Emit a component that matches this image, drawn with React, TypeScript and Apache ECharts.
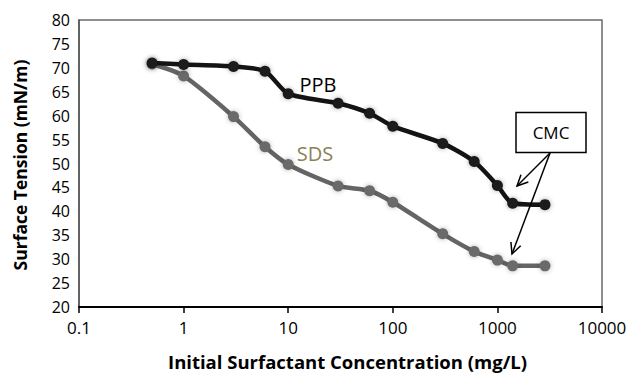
import React, { useEffect, useRef } from "react";
import * as echarts from "echarts";

const concentrations = [0.5, 1, 3, 6, 10, 30, 60, 100, 300, 600, 1000, 1400, 2850];
const ppbTension = [71.0, 70.7, 70.3, 69.3, 64.6, 62.6, 60.5, 57.8, 54.2, 50.4, 45.4, 41.7, 41.4];
const sdsTension = [70.8, 68.3, 59.8, 53.5, 49.8, 45.3, 44.3, 41.9, 35.3, 31.6, 29.8, 28.6, 28.6];
const xTicks = [0.1, 1, 10, 100, 1000, 10000];

const FONT = "'Open Sans', sans-serif";

export default function App() {
  const ref = useRef<HTMLDivElement>(null);
  useEffect(() => {
    if (!ref.current) return;
    const chart = echarts.init(ref.current, undefined, { renderer: "svg" });
    const ppb = concentrations.map((c, i) => [c, ppbTension[i]]);
    const sds = concentrations.map((c, i) => [c, sdsTension[i]]);
    const arrowHead = (tx: number, ty: number, fx: number, fy: number) => {
      const ang = Math.atan2(fy - ty, fx - tx);
      const L = 12;
      const spread = 0.45;
      return [
        [tx + L * Math.cos(ang + spread), ty + L * Math.sin(ang + spread)],
        [tx, ty],
        [tx + L * Math.cos(ang - spread), ty + L * Math.sin(ang - spread)],
      ];
    };
    const start = [550, 153];
    const tip1 = [517, 186];
    const tip2 = [512, 254];
    chart.setOption({
      animation: false,
      textStyle: { fontFamily: FONT },
      grid: {
        left: 79,
        right: 28,
        top: 20,
        bottom: 67,
        containLabel: false,
        outerBoundsMode: "none",
        show: true,
        borderColor: "#6a6a6a",
        borderWidth: 1.5,
        backgroundColor: "transparent",
      },
      xAxis: {
        type: "log",
        logBase: 10,
        min: 0.1,
        max: 10000,
        axisLine: { lineStyle: { color: "#000", width: 2 } },
        axisTick: { show: true, length: 6, lineStyle: { color: "#000", width: 1.5 } },
        splitLine: { show: false },
        minorTick: { show: false },
        axisLabel: {
          margin: 12,
          fontSize: 17,
          color: "#000",
          fontFamily: FONT,
          formatter: (v: number) => {
            const m = xTicks.find((t) => Math.abs(t - v) / t < 1e-6);
            return m !== undefined ? String(m) : String(v);
          },
        },
      },
      yAxis: {
        type: "value",
        min: 20,
        max: 80,
        interval: 5,
        axisLine: { show: true, lineStyle: { color: "#555", width: 1.5 } },
        axisTick: { show: false },
        splitLine: { show: false },
        axisLabel: { margin: 9, fontSize: 16, color: "#000", fontFamily: FONT },
      },
      series: [
        {
          name: "PPB",
          type: "line",
          data: ppb,
          smooth: 0.25,
          symbol: "circle",
          symbolSize: 11,
          lineStyle: { color: "#141414", width: 4.5 },
          itemStyle: {
            color: "#1a1a1a",
            shadowBlur: 5,
            shadowColor: "rgba(0,0,0,0.35)",
          },
          z: 3,
        },
        {
          name: "SDS",
          type: "line",
          data: sds,
          smooth: 0.25,
          symbol: "circle",
          symbolSize: 11,
          lineStyle: { color: "#656565", width: 4.5 },
          itemStyle: {
            color: "#6a6a6a",
            shadowBlur: 5,
            shadowColor: "rgba(0,0,0,0.3)",
          },
          z: 2,
        },
      ],
      graphic: [
        {
          type: "text",
          x: 20,
          y: 165,
          rotation: Math.PI / 2,
          style: {
            text: "Surface Tension (mN/m)",
            fontFamily: FONT,
            fontSize: 17.5,
            fontWeight: "bold",
            fill: "#000",
            align: "center",
            verticalAlign: "middle",
          },
        },
        {
          type: "text",
          x: 347.5,
          y: 361,
          style: {
            text: "Initial Surfactant Concentration (mg/L)",
            fontFamily: FONT,
            fontSize: 18.5,
            fontWeight: "bold",
            fill: "#000",
            align: "center",
            verticalAlign: "middle",
          },
        },
        {
          type: "text",
          x: 318,
          y: 84,
          style: { text: "PPB", fontFamily: FONT, fontSize: 20, fill: "#000", align: "center", verticalAlign: "middle" },
        },
        {
          type: "text",
          x: 315,
          y: 153,
          style: { text: "SDS", fontFamily: FONT, fontSize: 20, fill: "#8a8158", align: "center", verticalAlign: "middle" },
        },
        {
          type: "rect",
          shape: { x: 516, y: 112.5, width: 70, height: 40 },
          style: { fill: "#fff", stroke: "#000", lineWidth: 1.5 },
          z: 10,
        },
        {
          type: "text",
          x: 551,
          y: 132.5,
          style: { text: "CMC", fontFamily: FONT, fontSize: 17, fill: "#000", align: "center", verticalAlign: "middle" },
          z: 11,
        },
        {
          type: "line",
          shape: { x1: start[0], y1: start[1], x2: tip1[0], y2: tip1[1] },
          style: { stroke: "#000", lineWidth: 1.5 },
          z: 10,
        },
        {
          type: "polyline",
          shape: { points: arrowHead(tip1[0], tip1[1], start[0], start[1]) },
          style: { stroke: "#000", lineWidth: 1.5, fill: "none" },
          z: 10,
        },
        {
          type: "line",
          shape: { x1: start[0], y1: start[1], x2: tip2[0], y2: tip2[1] },
          style: { stroke: "#000", lineWidth: 1.5 },
          z: 10,
        },
        {
          type: "polyline",
          shape: { points: arrowHead(tip2[0], tip2[1], start[0], start[1]) },
          style: { stroke: "#000", lineWidth: 1.5, fill: "none" },
          z: 10,
        },
      ],
    });
    return () => chart.dispose();
  }, []);
  return <div ref={ref} style={{ width: 630, height: 374, position: "absolute", left: 0, top: 0 }} />;
}
